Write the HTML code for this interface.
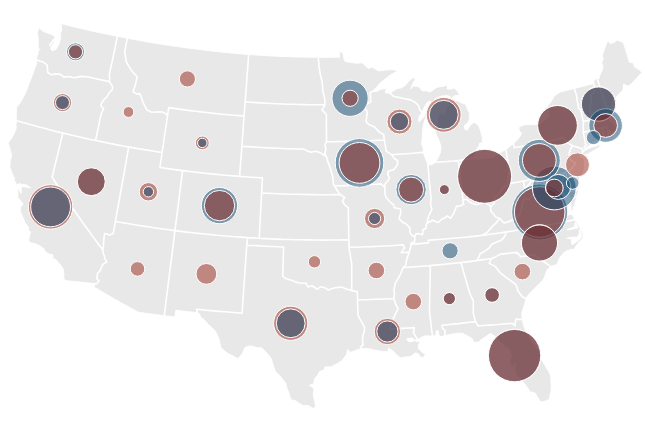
<!DOCTYPE html>
<html><head><meta charset="utf-8"><title>US map</title>
<style>html,body{margin:0;padding:0;background:#fff}svg{display:block}
.land{fill:#e8e8e8;stroke:#fff;stroke-width:1;stroke-linejoin:round}
.b{fill:none;stroke:#fff;stroke-width:1.6;stroke-linejoin:round;stroke-linecap:round}
.c circle{stroke:#fff;stroke-width:1;fill-opacity:.5}
</style></head><body>
<svg width="645" height="438" viewBox="0 0 645 438">
<path class="land" d="M61.3 24.4L61.8 30.6L60.3 33.1L60.8 37.1L59.3 43.2L56.5 48.9L52.1 50.9L50.5 47.9L54.1 42.2L55.2 37.1L52.1 34.6L47.7 33.0L43.3 31.5L39.2 28.0L38.0 30.1L37.3 33.7L38.3 38.7L38.2 43.4L38.2 49.0L40.3 49.3L38.3 50.6L38.0 53.6L36.3 58.7L37.0 59.6L36.3 64.2L34.0 70.6L32.6 74.5L31.2 78.4L29.1 83.3L27.6 87.6L26.1 91.9L23.9 96.0L21.8 100.1L19.2 104.1L16.6 107.4L16.3 114.3L16.2 119.3L16.9 120.7L15.9 124.4L16.2 128.4L13.5 134.7L11.6 138.4L8.2 142.8L10.0 149.0L11.6 155.4L10.3 160.6L9.8 166.7L11.8 172.8L14.6 178.3L14.2 182.9L15.3 181.6L16.6 185.2L19.7 183.4L21.4 184.6L24.9 184.2L27.8 186.0L30.7 187.8L25.5 186.9L22.1 186.4L21.4 187.5L21.1 193.6L19.0 190.2L18.2 187.5L17.3 188.8L18.0 192.6L17.7 197.2L20.8 201.1L23.2 204.1L20.9 206.3L20.1 211.1L22.9 217.3L24.8 222.2L28.8 227.9L28.1 230.1L30.7 232.0L29.6 235.4L28.6 240.2L30.2 242.6L35.9 243.9L39.4 245.6L43.8 248.7L45.4 251.7L48.9 254.1L52.5 254.5L53.2 258.2L52.9 259.2L55.5 259.3L58.3 262.4L60.7 265.1L63.5 269.8L63.9 275.3L63.8 278.1L64.9 280.5L71.0 281.2L77.1 281.8L83.3 282.5L89.4 283.1L95.5 283.6L93.7 286.9L99.2 290.1L104.7 293.3L110.2 296.5L115.8 299.7L121.4 302.9L127.0 306.0L132.6 309.1L138.3 312.2L144.4 313.1L150.5 313.9L156.6 314.7L162.7 315.6L168.9 316.3L175.0 317.1L175.8 310.3L181.2 310.9L186.6 311.5L191.9 312.1L197.3 312.7L199.2 313.6L201.1 317.8L204.2 319.7L208.3 324.4L211.9 327.7L215.5 331.1L218.9 338.7L219.8 342.9L220.8 347.2L222.4 349.0L227.0 353.0L232.1 355.6L237.9 358.7L242.2 354.0L245.0 347.5L250.0 345.7L256.5 347.4L261.8 348.0L268.1 354.5L271.3 358.5L273.0 364.7L275.4 371.6L280.0 376.0L285.9 383.3L286.4 387.1L288.7 392.4L290.9 399.7L295.0 400.6L298.7 402.9L302.5 405.3L308.7 405.7L312.8 408.4L315.9 407.3L314.5 400.7L313.2 394.1L314.0 388.3L309.3 385.3L313.6 384.0L314.6 378.5L317.5 375.6L319.4 371.7L324.3 369.8L324.9 366.9L331.1 366.9L336.4 364.0L341.7 361.1L346.6 354.3L347.6 349.4L350.5 352.3L354.4 350.9L358.3 349.4L363.1 348.4L368.6 348.7L373.3 349.8L378.0 350.9L383.3 351.4L388.0 351.9L388.4 348.1L393.2 350.9L396.1 354.5L400.9 358.0L404.9 357.0L410.2 356.7L412.7 355.0L414.6 353.0L417.9 353.4L420.9 357.4L423.8 357.2L425.3 354.3L422.5 352.4L418.2 348.2L418.6 343.9L421.0 341.5L416.4 341.4L414.4 340.4L418.0 339.7L420.7 337.7L423.3 336.4L425.8 335.8L431.1 336.1L432.4 335.5L436.0 336.0L436.0 331.1L438.1 330.5L438.9 334.7L440.7 336.8L444.3 336.0L448.1 334.8L452.7 334.0L457.2 333.2L462.5 333.3L468.1 336.2L472.6 339.0L473.1 342.0L478.1 342.4L481.7 339.2L486.0 336.6L490.3 333.5L495.3 336.6L499.3 341.4L504.7 346.3L509.1 349.2L511.4 355.8L510.1 360.5L510.2 364.3L512.5 367.8L515.2 362.8L514.7 369.0L515.2 372.3L517.6 376.3L521.2 380.3L524.5 383.6L527.6 387.7L529.6 391.7L535.0 393.0L539.1 399.7L540.6 402.1L545.4 401.0L549.1 399.6L549.8 396.4L551.1 390.8L551.2 385.4L550.9 380.8L550.6 376.3L549.4 372.7L547.2 369.0L545.0 365.4L542.6 361.4L540.2 357.3L539.5 351.3L537.9 349.3L534.7 345.2L531.5 341.2L528.8 336.2L526.1 331.3L523.6 325.6L522.3 319.5L521.7 313.6L523.8 306.4L526.2 298.6L527.9 295.4L530.7 292.5L533.6 289.4L536.5 286.3L539.7 283.4L542.8 280.4L544.5 277.2L547.0 270.1L550.5 266.4L553.8 265.5L557.2 264.6L557.9 261.9L559.7 257.7L564.8 251.7L568.1 250.4L571.3 249.1L573.4 249.9L578.2 243.0L583.2 238.3L582.7 232.7L580.0 227.9L577.5 223.8L575.1 219.7L572.7 215.5L572.1 214.4L567.9 215.0L567.8 211.9L566.6 206.0L565.5 200.8L562.8 199.9L556.8 197.3L552.2 195.1L554.3 190.8L555.4 194.9L561.2 197.9L564.7 198.8L562.8 194.9L560.4 189.5L560.1 185.5L559.7 182.0L562.0 178.7L562.8 175.9L564.3 175.6L562.4 180.6L562.9 185.9L562.9 189.8L564.7 194.1L568.6 195.2L570.6 199.0L570.9 205.9L571.0 210.5L572.3 211.4L574.4 205.1L576.6 198.4L578.3 191.4L578.2 189.5L577.2 185.9L576.5 184.5L573.5 182.0L571.4 177.9L568.8 175.4L568.9 171.9L569.6 170.8L570.7 171.8L569.8 175.9L572.6 177.9L576.3 178.3L577.8 182.2L579.7 177.5L582.6 174.2L584.7 167.8L584.3 160.9L583.4 157.2L580.5 157.5L580.5 155.1L582.3 153.6L582.7 150.7L584.4 150.8L585.3 148.2L586.6 147.4L590.1 144.7L592.8 142.5L595.8 141.6L598.8 140.6L601.5 139.5L604.0 138.5L608.1 136.8L608.2 134.6L607.3 130.2L609.0 131.3L610.5 134.3L611.5 133.7L613.4 131.9L615.3 128.7L616.5 131.6L620.0 129.3L623.6 127.7L623.1 125.0L621.6 122.6L619.2 122.5L621.3 124.7L622.4 126.3L619.6 127.9L617.2 127.8L614.9 125.7L613.1 122.3L609.5 121.2L610.4 118.0L612.6 115.4L609.9 113.8L609.4 112.8L609.6 109.6L610.4 107.3L611.8 104.1L612.7 99.7L616.2 97.1L618.8 94.3L622.9 90.4L623.8 83.9L627.3 86.0L630.4 85.0L632.9 81.9L636.4 78.5L638.1 76.4L641.8 72.5L640.1 70.2L636.9 68.3L634.6 67.1L633.3 62.8L629.3 62.5L628.4 58.8L626.7 53.4L625.1 48.0L623.4 42.6L621.2 41.5L616.6 40.1L614.4 42.5L609.7 43.4L609.1 41.2L607.3 41.3L604.9 47.9L602.5 54.6L603.1 59.0L601.7 62.7L603.0 66.2L602.4 69.9L599.5 75.8L599.6 78.2L597.0 78.1L594.0 80.0L593.8 83.5L588.9 84.8L584.1 86.0L579.2 87.3L574.3 88.5L569.6 89.7L564.9 90.8L560.1 92.0L557.2 94.0L554.3 96.0L550.3 102.8L547.9 105.7L545.6 108.7L548.3 111.7L548.8 117.0L545.8 118.9L541.0 123.0L537.8 123.8L534.5 124.6L529.5 124.7L524.4 124.7L521.4 126.1L518.5 127.5L519.9 132.0L521.7 133.2L519.8 136.7L517.5 139.4L513.5 143.6L510.1 146.1L505.8 149.4L502.9 151.1L497.7 154.3L493.6 157.5L487.9 158.1L482.3 159.2L481.7 158.7L478.3 159.5L473.6 158.3L474.3 155.5L476.3 150.6L476.8 148.7L478.8 146.5L479.9 142.8L482.3 143.3L482.3 137.5L480.4 130.2L478.5 125.1L474.2 122.3L470.2 125.2L467.0 130.5L464.3 128.6L464.6 125.0L467.7 123.1L469.6 118.7L469.2 112.7L467.1 108.4L465.7 104.3L462.3 103.2L457.6 100.8L454.7 100.9L451.7 99.3L448.9 100.4L448.5 104.7L450.3 105.2L446.6 106.9L445.7 110.3L444.6 115.0L443.9 115.4L443.3 109.9L441.7 113.1L438.9 114.2L437.3 118.1L437.1 124.3L435.7 129.0L435.7 133.5L438.7 139.6L440.9 146.2L440.6 152.0L438.6 156.8L435.6 162.3L431.5 164.8L427.8 164.7L426.6 161.4L425.4 158.6L423.3 152.4L423.1 147.7L421.6 144.3L422.1 138.8L422.6 133.3L422.9 128.0L424.1 122.5L426.6 114.7L428.8 109.5L427.3 110.8L424.5 116.0L421.1 119.8L418.5 121.8L419.1 116.2L422.0 112.8L423.8 108.1L427.0 102.5L430.1 101.1L431.5 104.0L433.4 101.8L435.2 98.6L438.3 97.3L441.4 96.1L444.8 95.8L448.3 95.6L451.6 97.9L454.8 95.5L460.1 95.3L457.5 91.4L454.3 87.9L451.3 89.1L447.0 88.9L447.5 84.7L444.0 86.2L440.4 86.7L436.9 87.3L433.6 89.6L430.2 92.0L426.4 90.8L422.1 90.8L419.1 86.8L416.1 86.3L413.2 85.9L410.8 88.8L412.9 83.3L415.2 78.8L417.5 77.9L412.5 78.0L408.6 81.4L405.2 85.5L401.7 87.7L396.5 88.9L393.3 91.0L390.2 93.1L385.3 92.9L386.4 88.3L381.7 89.1L376.5 91.6L372.3 91.4L376.6 87.1L380.6 82.6L385.3 78.9L390.0 75.2L393.6 73.2L397.3 71.2L398.3 70.8L393.0 69.7L389.2 69.8L385.3 70.1L381.9 70.5L378.6 71.0L375.4 69.1L372.2 67.2L368.1 68.5L365.2 65.6L362.2 62.7L357.6 63.2L354.5 62.9L351.4 62.6L348.3 62.1L345.2 61.6L344.2 59.5L342.8 52.6L339.4 51.4L339.5 57.2L334.5 57.2L329.4 57.3L324.4 57.3L319.3 57.3L314.3 57.2L309.2 57.2L304.2 57.1L299.1 57.0L294.1 56.9L289.0 56.7L284.0 56.5L278.9 56.3L273.9 56.1L268.8 55.8L263.8 55.5L258.7 55.2L253.7 54.8L248.7 54.5L243.6 54.1L238.6 53.7L233.6 53.2L228.5 52.7L223.5 52.3L218.5 51.7L213.5 51.2L208.5 50.6L203.4 50.0L198.4 49.4L193.4 48.7L188.4 48.1L183.4 47.4L178.4 46.7L173.4 46.0L168.4 45.3L163.4 44.5L158.4 43.7L153.5 42.9L148.5 42.1L143.5 41.2L138.6 40.3L133.6 39.4L128.6 38.5L123.7 37.5L118.7 36.6L113.8 35.6L108.9 34.6L103.9 33.6L99.0 32.5L94.1 31.5L89.2 30.4L84.3 29.3L79.4 28.1L74.5 27.0L69.6 25.8L64.7 24.6L59.8 23.3L55.0 22.0ZM582.5 154.8L583.5 155.3L588.5 153.7L592.1 151.6L595.7 149.5L600.8 146.2L605.0 142.2L602.6 143.9L599.0 146.1L599.9 142.7L597.2 145.8L591.6 147.2L587.3 149.0L584.8 150.7L583.1 151.9L582.5 153.6ZM615.4 135.0L619.5 133.9L617.9 132.4L616.3 133.2ZM622.2 134.2L625.1 133.9L623.7 132.2Z"/>
<path fill="#fff" d="M406.2 339.9L409.2 342.2L412.9 342.1L415.0 339.6L411.5 337.6L407.6 338.0ZM572.9 244.9L577.9 241.2L581.9 237.8L581.2 230.7L578.7 228.9L579.0 233.5L576.9 236.8L571.2 236.7L565.3 238.3L571.2 239.5L570.8 243.8ZM578.6 228.2L575.4 221.1L574.7 223.6L574.1 226.5L570.3 227.9L566.5 229.2L567.4 230.6L571.0 229.8L574.6 229.1Z"/>
<path class="b" d="M49.7 45.3L52.1 42.0L54.4 38.6M37.0 59.6L39.7 61.2L42.9 61.8L47.0 64.8L47.5 68.9L47.7 72.5L51.5 74.7L56.2 73.9L60.5 74.4L63.7 77.1L69.4 76.5L74.0 77.8L77.5 77.1L81.0 76.4L84.2 76.6L87.5 76.7L91.8 77.7L96.2 78.7L100.5 79.7L104.8 80.6L109.2 81.5M117.4 36.3L116.0 42.9L114.7 49.5L113.3 56.0L112.0 62.3L110.6 68.7L109.2 75.0L109.7 79.0L109.2 81.5M109.2 81.5L112.3 86.0L112.5 89.2L109.3 92.8L106.7 97.2L103.9 99.7L101.2 103.8L100.9 106.1L103.7 108.7L101.3 113.4L99.8 120.2L98.4 127.0L97.0 133.7L95.6 140.5M127.2 38.2L126.0 44.9L124.7 51.6L125.5 56.8L126.3 62.0L129.1 66.6L132.0 71.1L134.6 74.0L137.2 76.8L136.3 80.8L135.4 84.8L133.1 91.6L136.5 93.9L140.0 93.9L141.7 98.5L143.4 103.1L146.8 109.9L151.4 112.2L156.5 112.0L161.6 111.7L165.1 113.3L167.6 115.4M168.7 107.6L167.6 115.1L166.5 122.6L165.4 130.0L164.3 137.5L163.2 145.0L162.1 152.5L161.0 160.0L159.9 167.5M168.7 107.6L174.1 108.4L179.4 109.1L184.8 109.9L190.2 110.6L195.6 111.2L200.9 111.9L206.3 112.5L211.7 113.1L217.1 113.6L222.5 114.2L227.9 114.7L233.3 115.2L238.7 115.6L244.1 116.0M16.9 120.7L22.1 122.3L27.5 123.8L32.8 125.2L38.1 126.7L43.4 128.1L48.7 129.5L54.1 130.9L59.4 132.2L64.8 133.5L70.1 134.8L75.5 136.0L80.9 137.3L86.2 138.5L91.6 139.7L97.0 140.8L102.4 141.9L107.8 143.0L113.2 144.1L118.6 145.1L124.0 146.2L129.5 147.1L134.9 148.1L140.3 149.0L145.8 149.9L151.2 150.8L156.6 151.7L162.1 152.5M62.8 133.0L61.0 140.4L59.3 147.7L57.5 155.1L55.7 162.4L53.9 169.8L52.1 177.1L56.4 183.8L60.8 190.5L65.3 197.2L69.7 203.8L74.3 210.5L78.9 217.1L83.6 223.7L88.3 230.3L93.1 236.9L98.0 243.4L102.9 249.9M128.7 147.0L127.4 154.2L126.2 161.4L124.9 168.6L123.6 175.9L122.3 183.1L121.0 190.3L119.7 197.5L118.4 204.7L117.1 211.9L115.8 219.1L114.5 226.3L113.3 233.5L109.8 235.1L105.1 233.4L104.4 234.5L103.7 240.9L103.5 245.4L102.9 249.9M102.9 249.9L102.8 252.2L104.6 256.4L104.8 258.8L106.8 261.9L102.7 264.5L100.0 270.9L97.4 273.5L96.9 278.8L99.1 280.8L96.8 283.7L95.5 283.6M115.4 221.5L121.3 222.5L127.3 223.5L133.2 224.5L139.1 225.5L145.1 226.4L151.0 227.3L157.0 228.2L162.9 229.0L168.9 229.8L174.9 230.6L180.8 231.4L186.8 232.1L192.8 232.8L198.7 233.4L204.7 234.0L210.7 234.6L216.7 235.2L222.7 235.7L228.7 236.2L234.7 236.7L240.7 237.1L246.7 237.6L252.7 237.9L258.7 238.3L264.7 238.6L270.7 238.9L276.7 239.1L282.7 239.4L288.7 239.5L294.7 239.7L300.8 239.8L306.8 239.9L312.8 240.0L318.8 240.0L324.8 240.1L330.8 240.0L336.8 240.0L342.8 239.9L348.9 239.8M159.9 167.5L165.5 168.3L171.2 169.1L176.9 169.9L182.6 170.6L188.3 171.3L194.0 172.0L199.6 172.6L205.3 173.3L211.0 173.9L216.7 174.4L222.4 175.0L228.2 175.5L233.9 175.9L239.6 176.4L245.3 176.8L251.0 177.2L256.7 177.5L262.4 177.9M182.6 170.6L181.7 177.9L180.7 185.1L179.8 192.4L178.9 199.6L178.0 206.9L177.1 214.1L176.1 221.4L175.2 228.7L174.3 235.9L173.4 243.2L172.5 250.4L171.6 257.7L170.6 264.9L169.7 272.2L168.8 279.5L167.9 286.7L167.0 294.0L166.0 301.2L165.1 308.5L164.2 315.7M248.6 54.5L248.1 62.6L247.5 70.8L246.9 78.3L246.4 85.8L245.8 93.4L245.2 100.9L244.7 108.5L244.1 116.0L243.5 123.6L243.0 131.1L242.4 138.7L241.8 146.2L241.3 153.7L240.7 161.3L240.1 168.8L239.6 176.4M262.4 177.9L262.0 185.4L261.6 193.0L261.2 200.5L260.8 208.1L260.4 215.6L260.0 223.2L259.6 230.7L259.2 238.3M261.6 193.0L267.2 193.3L272.8 193.5L278.4 193.8L284.0 194.0L289.6 194.2L295.2 194.3L300.8 194.4L306.4 194.5L312.0 194.6L317.6 194.7L323.2 194.7L328.8 194.7L334.4 194.6L340.0 194.5M247.7 237.6L246.7 245.1L246.2 252.7L245.7 260.2L245.2 267.8L244.7 275.3L244.2 282.9L243.6 290.4L243.1 298.0L242.6 305.5L242.1 313.1M242.1 313.1L236.4 312.7L230.7 312.3L225.0 311.8L219.3 311.4L213.6 310.9L207.9 310.4L202.2 309.8L196.5 309.2L197.3 312.7M247.2 245.2L253.3 245.5L259.4 245.9L265.4 246.2L271.5 246.5L277.6 246.7L283.6 247.0L283.4 254.3L283.2 261.6L282.9 269.0L282.7 276.3M282.7 276.3L286.3 278.8L292.5 280.5L295.6 282.1L300.0 283.0L306.2 283.4L308.1 286.9L311.8 285.7L317.5 289.2L320.6 286.7L325.0 287.7L328.2 290.0L331.6 288.8L335.1 287.7L341.3 287.1L346.4 289.0L351.7 290.6L357.3 291.8M357.3 291.8L357.5 297.7L357.6 303.6L357.8 309.5L358.0 315.4L361.2 321.2L364.6 327.4L364.1 331.7L362.7 336.3L362.5 340.8L363.2 344.6L360.9 346.9L361.4 349.9M348.9 239.8L349.0 247.3L349.9 252.9L350.8 258.4L351.7 263.9L351.7 270.6L351.7 277.2L351.7 283.9L351.7 290.6M349.0 247.3L355.1 247.2L361.1 247.0L367.1 246.8L373.2 246.6L379.2 246.3L385.2 246.0L391.2 245.7L397.3 245.3L403.3 244.9L404.5 247.9L401.1 252.6L405.2 252.4L409.3 252.1M357.5 299.8L363.6 299.7L369.7 299.5L375.7 299.3L381.8 299.1L387.9 298.8L393.9 298.6M340.0 194.5L344.7 197.5L342.4 201.3L344.8 205.1L348.3 207.7L348.4 214.1L348.5 220.5L348.6 227.0L348.7 233.4L348.9 239.8M340.0 194.5L337.0 190.0L334.4 185.8L333.5 184.3L333.0 180.0L332.5 175.7L330.5 168.9L327.7 161.4L326.5 156.8L323.7 155.0L320.9 153.1L315.9 151.2L310.3 152.2L307.0 150.7L303.6 149.1L298.5 149.0L293.3 148.9L288.2 148.7L283.0 148.5L277.9 148.3L272.7 148.1L267.6 147.8L262.4 147.6L257.3 147.3L252.1 146.9L247.0 146.6L241.8 146.2M326.5 156.8L324.8 153.5L325.9 149.3L325.0 144.7L326.5 141.7M326.5 141.7L326.5 134.9L326.4 128.1L326.4 121.3L326.4 114.5L322.1 109.9L325.0 104.8M325.0 104.8L324.8 99.3L323.8 95.0L322.8 90.6L322.5 85.9L322.1 81.2L320.3 74.7L319.6 70.1L319.0 65.4L318.3 57.3M245.2 101.8L250.5 102.2L255.8 102.6L261.1 102.9L266.4 103.2L271.7 103.5L277.1 103.8L282.4 104.0L287.7 104.2L293.0 104.3L298.4 104.5L303.7 104.6L309.0 104.7L314.3 104.7L319.7 104.8L325.0 104.8M326.5 141.7L331.7 141.7L337.0 141.6L342.3 141.5L347.5 141.4L352.8 141.3L358.1 141.1L363.3 141.0L368.6 140.8L373.8 140.5L379.1 140.3L384.3 140.0M334.4 185.8L339.6 185.7L344.8 185.6L350.0 185.4L355.1 185.2L360.3 185.0L365.5 184.8L370.6 184.5L375.8 184.3L380.9 183.9L384.7 187.2M384.3 140.0L383.7 134.7L379.2 131.9L374.5 126.9L368.9 124.5L366.1 121.9L366.5 118.1L367.3 112.0L364.7 107.6L366.5 104.5L370.7 101.6L370.5 97.2L370.3 92.8L372.3 91.4M384.3 140.0L385.5 146.7L386.3 151.2L391.6 154.7L394.7 159.0L397.6 160.4L397.5 164.2L396.3 166.5L393.7 169.7L388.1 171.3L387.7 174.6L389.6 177.6L388.0 180.7L385.3 183.6L384.7 187.2L385.1 194.0L386.1 197.5L389.8 201.8L393.5 204.6L394.3 207.6L397.3 208.2L400.5 209.0L400.8 212.8L399.1 218.6L402.4 222.2L405.4 223.5L409.9 227.7L410.0 232.3L411.7 235.2L414.9 236.8L414.6 241.8L410.7 243.2L411.2 244.3L410.2 248.2L409.3 252.1L406.7 259.1L405.7 265.5L403.0 267.7L400.3 274.7L397.8 279.0L395.2 283.3L393.8 291.0L394.5 292.5L393.9 298.6L395.8 304.5L398.0 308.6L395.7 313.6L392.2 320.6L391.0 324.9L389.7 329.1M389.7 329.1L395.9 328.8L402.0 328.4L408.2 328.0L414.4 327.6L413.4 332.6L416.1 337.3L418.0 339.7M422.0 112.8L419.5 109.3L418.7 105.6L415.7 102.8L411.2 100.1L407.9 99.4L404.7 98.7L401.0 97.9L397.3 97.1L393.6 96.3L390.2 93.1M391.7 154.7L397.0 154.4L402.2 154.0L407.5 153.7L412.8 153.3L418.0 152.8L423.3 152.4M427.8 164.7L428.5 171.7L429.1 178.6L429.8 185.5L430.4 192.4L431.1 199.4L430.5 203.2L431.9 209.5L429.7 213.9L427.8 218.7L427.0 223.3M414.9 236.8L415.8 233.7L419.7 233.8L422.6 234.8L422.8 229.8L426.0 228.4L426.2 224.9L427.0 223.3L432.5 220.2L438.3 222.5L441.6 219.2L445.0 217.7L447.3 216.0L450.7 218.2L453.6 213.5L456.6 206.1L459.3 206.2L463.8 204.2L462.9 202.0L463.0 199.7L466.7 199.2L470.1 202.6L476.4 204.8L480.7 203.6L485.0 202.4L490.3 205.9L490.4 206.7L494.6 203.0L494.2 200.0L496.0 196.2L498.7 194.7L500.4 191.8L501.5 189.7L504.5 186.9L507.5 184.1L508.3 178.3L508.8 173.2L509.2 169.4M463.0 199.7L462.2 193.2L461.5 186.7L460.7 180.2L460.0 173.6L459.2 167.1L458.4 160.6M435.6 162.3L440.1 162.0L444.7 161.7L449.3 161.3L453.9 161.0L458.4 160.6L463.5 159.9L468.6 159.1L473.6 158.3M505.8 149.4L506.9 156.2L508.1 162.9L509.2 169.7L510.3 176.4L511.5 183.1L516.9 182.2L522.3 181.3L527.8 180.3L533.2 179.3L538.6 178.2L544.0 177.2L549.4 176.1L554.8 175.0L560.2 173.8L565.6 172.7M490.4 206.7L491.0 211.2L493.9 214.6L495.5 216.9L499.7 218.4M499.7 218.4L496.4 222.6L491.5 227.2L487.4 232.3L484.4 233.9L481.3 235.5M481.3 235.5L476.0 236.1L470.7 236.6L465.4 237.2L459.4 237.8L453.3 238.3L447.3 238.8L442.5 239.2L437.8 239.5L433.0 239.9L428.3 240.2L428.5 242.9L422.7 243.4L417.0 243.9L411.2 244.3M481.3 235.5L487.3 234.7L493.4 233.8L499.4 233.0L505.4 232.1L511.2 231.2L517.0 230.3L522.8 229.4L528.6 228.4L534.4 227.5L540.2 226.4L546.0 225.4L551.8 224.3L557.5 223.2L563.3 222.1L569.1 220.9L574.8 219.7M505.4 232.1L505.6 235.0L502.0 239.8L498.8 241.2L495.6 242.6L492.1 243.9L489.0 248.2L485.6 250.6L479.8 254.0L479.5 256.0L476.7 260.6M491.5 258.5L486.6 259.2L481.7 259.9L476.7 260.6L470.7 261.4L464.8 262.1L458.8 262.8L452.8 263.4L446.9 264.0L440.9 264.6L434.9 265.1L428.9 265.7L423.7 266.1L418.5 266.5L413.4 266.9L408.2 267.3L403.0 267.7M491.5 258.5L495.4 256.9L500.4 254.1L505.8 253.6L511.2 253.0L516.5 252.4L516.8 253.9L518.0 252.9L520.5 256.8L525.1 256.1L529.6 255.5L534.2 254.8L539.6 258.7L545.0 262.5L550.5 266.4M491.5 258.5L489.2 263.4L495.3 266.4L500.0 272.6L505.7 277.1L509.3 279.6L515.9 284.7L518.2 291.2L522.3 296.7L526.2 298.6M461.0 262.7L462.8 268.9L464.5 275.2L466.3 281.4L468.1 287.6L469.9 293.8L473.3 300.6L473.3 308.2L473.3 313.5L474.4 317.6L475.6 321.6M475.6 321.6L477.9 325.9L483.7 325.5L489.5 325.1L495.2 324.7L501.0 324.2L506.7 323.7L512.5 323.2L515.0 326.0L515.2 322.3L516.0 319.1L522.3 319.5M475.6 321.6L470.0 322.3L464.4 322.9L458.8 323.6L453.2 324.1L447.6 324.7L442.0 325.3L442.2 327.5L445.1 331.0L444.8 334.9L444.3 336.0M428.9 265.7L430.3 267.1L430.2 274.4L430.0 281.8L429.9 289.1L429.7 296.5L429.6 303.8L429.4 311.2L430.2 317.3L430.9 323.4L431.6 329.5L432.4 335.5M499.7 218.4L504.0 223.0L509.3 221.5L513.5 219.2L516.7 216.8L519.5 215.1L521.9 208.1L521.9 204.7L524.4 198.1L529.0 200.0L533.0 193.9L535.1 188.7L537.3 183.4L537.1 182.5L540.6 184.4L544.0 186.3L544.7 183.2M544.7 183.2L542.4 179.3L538.4 178.6L535.7 181.7L531.7 180.6L529.0 183.9L524.8 188.8L524.1 184.9L523.4 181.1M544.7 183.2L547.9 185.7L553.0 187.5L554.3 190.8M572.3 198.6L577.3 196.2M565.6 172.7L567.3 178.8L569.0 185.0L570.7 191.2L574.5 190.4L578.2 189.5M565.6 172.7L566.3 170.9L567.9 170.3L569.5 170.5M569.5 170.5L572.3 167.6L575.6 163.0L571.7 160.7L569.2 157.4L569.4 152.7L570.8 148.6L572.4 145.7M572.4 145.7L577.5 147.3L582.6 148.9L582.3 153.6M572.4 145.7L567.8 143.0L563.1 137.9L557.7 139.1L552.3 140.2L546.9 141.4L541.4 142.5L536.0 143.6L530.6 144.6L525.1 145.7L519.7 146.7L514.2 147.7L513.5 143.6M585.3 148.2L584.1 147.0L586.5 144.7L585.4 143.5L584.4 138.0L583.3 132.4L583.3 126.9L583.3 121.5L582.0 115.6L580.6 109.7L578.7 108.6L578.0 104.5L577.2 100.4L576.3 94.4L574.3 88.5M583.3 132.4L588.0 131.3L592.7 130.3L597.4 129.2L602.0 128.1M602.0 128.1L603.7 134.2L604.0 138.5M602.0 128.1L606.6 126.9L607.1 128.6L608.1 130.2L610.0 131.5L611.5 133.7M583.3 121.5L587.7 120.5L592.2 119.6L596.4 118.6L600.6 117.7L604.8 116.7L605.8 114.9L607.4 113.3L609.4 112.8M592.2 119.6L590.7 118.0L590.7 113.4L590.0 107.3L590.2 105.7L591.3 99.9L590.9 95.4L594.7 91.5L594.3 87.5L593.8 83.5M609.6 109.6L605.9 106.2L604.0 99.7L601.6 92.5L599.3 85.3L597.0 78.1"/>
<g class="c">
<circle cx="539.7" cy="212.0" r="28.00" fill="#0a446c"/>
<circle cx="484.6" cy="176.3" r="27.20" fill="#0a446c"/>
<circle cx="484.6" cy="176.3" r="27.00" fill="#982418"/>
<circle cx="514.6" cy="355.6" r="26.45" fill="#0a446c"/>
<circle cx="514.6" cy="355.6" r="26.15" fill="#982418"/>
<circle cx="539.7" cy="212.0" r="25.30" fill="#982418"/>
<circle cx="359.5" cy="162.9" r="24.30" fill="#0a446c"/>
<circle cx="50.6" cy="206.9" r="22.20" fill="#982418"/>
<circle cx="554.3" cy="188.0" r="21.90" fill="#0a446c"/>
<circle cx="539.3" cy="160.4" r="21.00" fill="#0a446c"/>
<circle cx="359.5" cy="162.9" r="20.40" fill="#982418"/>
<circle cx="557.5" cy="125.4" r="20.00" fill="#0a446c"/>
<circle cx="50.6" cy="206.9" r="19.90" fill="#0a446c"/>
<circle cx="557.5" cy="125.4" r="19.90" fill="#982418"/>
<circle cx="539.5" cy="243.0" r="18.20" fill="#0a446c"/>
<circle cx="219.5" cy="205.6" r="18.10" fill="#0a446c"/>
<circle cx="350.1" cy="98.3" r="18.10" fill="#0a446c"/>
<circle cx="539.5" cy="243.0" r="18.10" fill="#982418"/>
<circle cx="598.5" cy="104.1" r="17.70" fill="#982418"/>
<circle cx="605.6" cy="125.5" r="16.80" fill="#0a446c"/>
<circle cx="443.7" cy="114.8" r="17.40" fill="#982418"/>
<circle cx="598.5" cy="104.1" r="17.10" fill="#0a446c"/>
<circle cx="290.7" cy="323.3" r="17.10" fill="#982418"/>
<circle cx="539.3" cy="160.4" r="16.80" fill="#982418"/>
<circle cx="411.1" cy="189.6" r="15.20" fill="#0a446c"/>
<circle cx="219.5" cy="205.6" r="15.20" fill="#982418"/>
<circle cx="443.7" cy="114.8" r="14.50" fill="#0a446c"/>
<circle cx="290.7" cy="323.3" r="14.40" fill="#0a446c"/>
<circle cx="91.3" cy="181.7" r="14.10" fill="#0a446c"/>
<circle cx="91.3" cy="181.7" r="14.00" fill="#982418"/>
<circle cx="387.4" cy="331.5" r="13.20" fill="#982418"/>
<circle cx="558.2" cy="186.9" r="12.50" fill="#0a446c"/>
<circle cx="399.5" cy="121.6" r="12.50" fill="#982418"/>
<circle cx="411.1" cy="189.6" r="12.50" fill="#982418"/>
<circle cx="577.5" cy="164.8" r="12.00" fill="#982418"/>
<circle cx="605.6" cy="125.5" r="11.90" fill="#982418"/>
<circle cx="387.4" cy="331.5" r="10.60" fill="#0a446c"/>
<circle cx="206.4" cy="273.9" r="10.40" fill="#982418"/>
<circle cx="374.6" cy="218.5" r="10.10" fill="#982418"/>
<circle cx="399.5" cy="121.6" r="9.20" fill="#0a446c"/>
<circle cx="148.4" cy="191.8" r="9.20" fill="#982418"/>
<circle cx="62.5" cy="102.6" r="9.10" fill="#982418"/>
<circle cx="75.5" cy="51.8" r="9.00" fill="#0a446c"/>
<circle cx="554.3" cy="188.0" r="8.90" fill="#982418"/>
<circle cx="376.4" cy="270.5" r="8.30" fill="#982418"/>
<circle cx="413.3" cy="301.6" r="8.30" fill="#982418"/>
<circle cx="522.4" cy="271.6" r="8.30" fill="#982418"/>
<circle cx="450.1" cy="250.8" r="8.10" fill="#0a446c"/>
<circle cx="187.4" cy="78.9" r="8.10" fill="#982418"/>
<circle cx="350.1" cy="98.3" r="8.10" fill="#982418"/>
<circle cx="492.1" cy="295.0" r="7.45" fill="#0a446c"/>
<circle cx="492.1" cy="295.0" r="7.35" fill="#982418"/>
<circle cx="137.5" cy="268.9" r="7.30" fill="#982418"/>
<circle cx="593.4" cy="137.6" r="7.10" fill="#0a446c"/>
<circle cx="75.5" cy="51.8" r="7.10" fill="#982418"/>
<circle cx="62.5" cy="102.6" r="7.00" fill="#0a446c"/>
<circle cx="202.3" cy="142.9" r="6.90" fill="#982418"/>
<circle cx="572.7" cy="183.0" r="6.30" fill="#0a446c"/>
<circle cx="449.4" cy="298.6" r="6.20" fill="#0a446c"/>
<circle cx="314.5" cy="261.8" r="6.20" fill="#982418"/>
<circle cx="374.6" cy="218.5" r="6.10" fill="#0a446c"/>
<circle cx="449.4" cy="298.6" r="6.10" fill="#982418"/>
<circle cx="128.5" cy="112.0" r="5.40" fill="#982418"/>
<circle cx="148.4" cy="191.8" r="5.20" fill="#0a446c"/>
<circle cx="444.4" cy="189.6" r="5.10" fill="#0a446c"/>
<circle cx="444.4" cy="189.6" r="5.00" fill="#982418"/>
<circle cx="202.3" cy="142.9" r="4.70" fill="#0a446c"/>
</g>
</svg>
</body></html>
